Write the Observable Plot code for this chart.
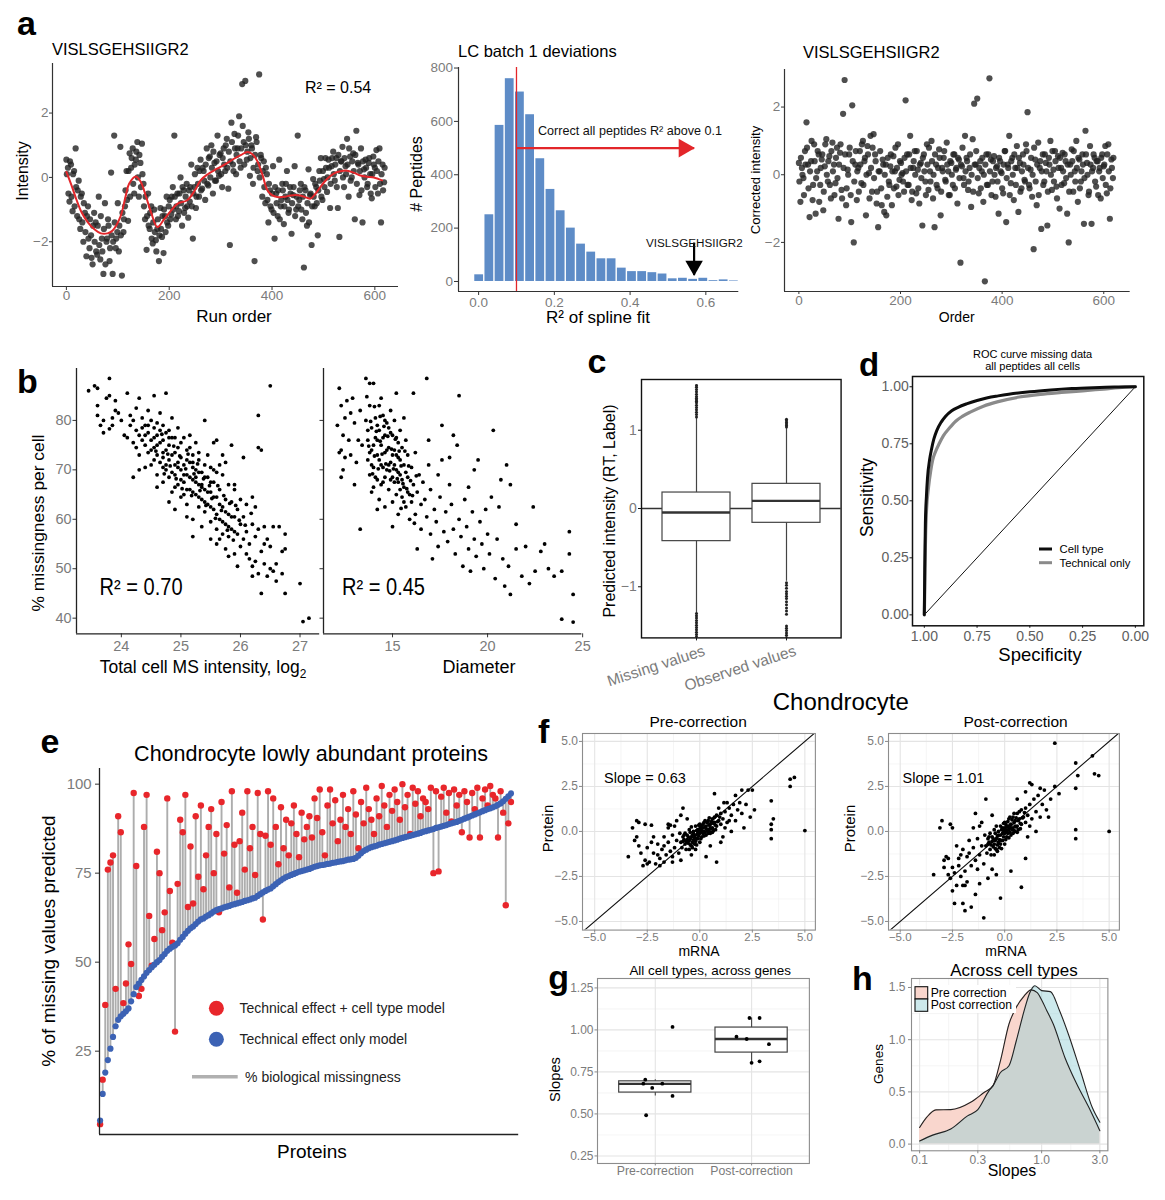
<!DOCTYPE html>
<html><head><meta charset="utf-8">
<script src="https://cdn.jsdelivr.net/npm/d3@7"></script>
<script src="https://cdn.jsdelivr.net/npm/@observablehq/plot@0.6"></script>
<style>
html,body{margin:0;padding:0;background:#fff;}
#root{position:relative;width:1165px;height:1200px;overflow:hidden;background:#fff;}
#root svg{position:absolute;max-width:none;overflow:visible;}
</style></head><body><div id="root"></div>
<script>
const FONT = "'Liberation Sans', Arial, Helvetica, sans-serif";

// ================= DATA =================
// (a) intensities of VISLSGEHSIIGR2: series A = runs 0,3,6,...; series B = runs 1,4,7,...
const aRunStep = 3;
const aRawIntensity = [
0.55,0.3,-0.75,0.4,-1.05,0.2,0.9,-1.2,-0.1,-1.6,
-0.5,-2.0,-1.1,-2.45,-0.9,-2.2,-1.8,-2.7,-1.1,-1.4,
-2.4,-0.6,-2.55,-1.9,-3.0,-0.8,-2.0,-1.3,-2.6,0.15,
-3.0,1.3,-2.2,-1.7,-2.3,0.95,-3.05,-1.7,-0.9,0.2,
-1.35,0.75,0.3,0.9,-0.5,0.55,1.1,-0.6,0.45,1.05,
-0.2,-1.3,-2.25,-0.5,-1.6,-0.9,-2.05,-1.0,-1.95,-1.6,
-2.6,-0.95,-1.85,-2.35,-1.2,-0.6,-1.5,-0.7,-1.15,-0.3,
1.3,-1.3,-0.5,-1.05,0.0,-1.5,-0.4,-0.95,-0.2,-1.25,
-0.75,0.4,-1.9,-0.3,-0.95,0.3,-0.6,0.55,-0.35,0.2,
-0.7,0.9,-0.25,0.65,1.0,-0.5,0.45,-0.1,1.3,0.05,
0.75,-0.3,0.9,0.2,1.2,-0.35,-2.1,1.7,0.4,1.35,
0.1,0.9,1.9,0.3,2.9,1.1,3.0,0.55,1.4,0.05,
1.0,-0.2,-2.6,1.25,0.2,3.2,0.7,-0.6,0.5,-0.8,
0.1,-1.4,-0.4,-1.0,0.35,-1.9,-0.5,-1.2,0.55,-0.9,
-0.2,-1.45,-0.6,0.2,-1.1,-0.3,-1.75,-0.55,0.35,-1.0,
1.3,-0.7,-0.2,-1.3,-2.8,-0.4,-1.5,0.25,-0.55,-2.1,
-0.05,-0.9,-0.3,-1.8,0.2,0.6,-0.7,-0.05,0.6,-0.45,
0.55,-0.95,0.35,0.8,-0.1,0.6,-0.95,-1.85,0.5,0.95,
-0.3,0.35,1.2,-0.6,0.65,0.0,0.75,-1.3,1.45,0.45,
-0.55,0.9,-1.4,0.25,0.55,-0.3,0.45,0.1,-0.65,0.65,
0.3,0.85,-0.5,0.9,-1.4,0.4,-0.15];
const aRawIntensityB = [
0.1,-0.5,0.5,-0.6,0.1,-0.9,-0.3,-0.4,-1.3,-0.6,
-1.4,-0.8,-1.7,-1.2,-1.9,-1.3,-2.5,-1.5,-2.0,-2.3,
-1.5,-2.1,-1.2,-2.3,-1.6,-2.7,-1.9,-1.5,-2.2,-1.8,
-2.0,-1.4,-1.9,-0.8,-1.5,-1.8,-1.1,-1.3,-0.4,-0.7,
0.2,-0.6,0.6,-0.2,0.4,0.8,0.0,0.7,-0.3,0.1,
-0.9,-0.6,-1.2,-1.5,-1.1,-1.9,-1.4,-1.7,-2.3,-1.3,
-1.8,-1.6,-1.2,-1.0,-1.7,-1.4,-0.9,-1.3,-0.6,-1.0,
-0.6,-0.9,-1.2,-0.5,-0.8,-0.3,-1.1,-0.6,-0.9,-0.4,
-0.3,-0.9,-0.5,0.1,-0.6,-0.2,0.2,-0.4,0.3,-0.1,
0.4,-0.2,0.6,0.0,0.3,0.8,-0.1,0.5,0.2,0.7,
0.1,0.6,0.4,1.0,0.3,0.8,0.5,1.1,0.2,0.9,
0.7,1.3,0.5,0.9,1.6,0.4,1.0,0.8,1.2,0.6,
0.9,0.3,0.7,1.1,0.4,0.0,0.6,0.2,-0.3,0.3,
-0.7,-0.2,-0.9,-0.5,-1.1,-0.3,-0.8,-0.4,-1.3,-0.7,
-0.4,-0.9,-0.2,-0.7,-1.0,-0.5,-0.8,-0.3,-1.2,-0.6,
-0.9,-0.4,-1.0,-0.6,-0.3,-1.1,-0.8,-1.4,-0.5,-0.9,
-0.6,-0.2,-0.8,-0.4,-0.1,-0.6,0.2,-0.3,0.3,0.0,
0.3,-0.2,0.6,0.1,0.4,-0.3,0.7,0.2,0.5,0.0,
0.6,0.1,0.4,0.9,-0.1,0.5,0.2,0.7,-0.2,0.4,
0.2,-0.4,0.5,0.0,0.3,-0.2,0.6,-0.5,0.1,0.4,
-0.3,0.2,0.5,-0.2,0.1,-0.4,0.3];
const aCorrectedIntensity = [
0.35,-0.8,0.2,-0.1,0.7,1.55,0.3,-1.25,0.4,-0.75,
0.9,-1.15,0.1,0.6,-0.3,0.45,-1.05,0.25,1.05,-0.2,
0.55,-0.7,0.95,0.3,-0.25,0.8,-1.3,0.65,-0.45,1.8,
2.8,-0.9,0.15,0.6,-0.6,2.05,-2.0,0.3,-0.75,0.2,
0.7,-0.25,1.0,0.4,-1.2,0.85,0.05,1.15,-0.5,1.2,
0.6,-0.85,-1.55,0.1,-0.4,0.45,-1.1,0.3,-0.65,-0.2,
0.25,-0.9,0.55,0.1,-0.35,0.9,-0.15,0.35,0.05,-0.5,
2.2,0.6,-0.3,1.15,-0.75,0.2,0.7,-0.55,0.15,-0.85,
0.35,-1.5,0.6,-0.2,0.9,-0.45,0.1,1.0,-0.7,-1.55,
0.3,-0.4,0.75,-1.2,0.2,0.5,-0.15,0.95,0.1,-0.6,
0.35,-0.3,0.6,0.15,-0.85,0.45,-2.6,0.25,-0.1,1.15,
0.5,-0.45,0.2,-0.95,1.05,2.1,0.3,2.25,-0.55,0.4,
0.1,-0.8,-3.15,0.6,-0.3,2.85,0.45,-0.2,0.55,-0.65,
0.25,-1.15,0.4,0.05,-0.55,0.7,-1.4,0.3,1.15,-0.25,
0.5,-0.75,0.2,0.85,-1.1,0.35,-0.4,0.6,-0.15,0.9,
1.85,-0.3,0.15,-0.65,-2.2,0.45,-0.9,0.95,0.2,-1.6,
0.6,-0.2,0.35,-1.5,0.5,1.0,-0.45,0.15,0.7,-0.35,
0.55,-1.0,0.2,0.65,-0.25,0.4,-1.15,-2.0,0.3,0.75,
-0.5,0.1,1.0,-0.8,0.45,-0.2,0.6,-1.45,1.3,0.35,
-0.6,0.85,-1.45,0.2,0.5,-0.35,0.4,0.1,-0.7,0.6,
0.25,0.85,-0.55,0.9,-1.3,0.45,-0.1];
const aCorrectedIntensityB = [
-0.2,0.5,0.0,-0.6,0.3,0.8,-0.4,0.1,1.0,-0.3,
0.4,-0.1,0.7,-0.8,0.2,0.6,-0.5,0.9,0.0,0.4,
-0.3,0.7,0.1,-0.6,0.5,-0.1,0.3,0.9,-0.7,0.2,
0.6,-0.4,0.0,0.8,-1.4,0.4,-0.2,0.7,0.1,-0.5,
0.3,0.9,-0.3,0.5,0.0,0.6,-0.7,0.2,0.8,-0.1,
0.4,-0.5,0.1,0.7,-0.9,0.3,0.0,-1.2,0.5,-0.3,
0.6,0.1,-0.4,0.8,0.2,-0.6,0.4,0.0,-0.2,0.5,
0.1,-0.3,0.6,0.2,-0.5,0.4,0.0,0.7,-0.4,0.3,
-0.1,0.5,0.1,-0.6,0.3,0.8,-0.2,0.4,0.0,0.6,
-0.3,0.2,0.5,-0.5,0.1,0.7,-0.2,0.3,-0.6,0.4,
0.0,0.6,-0.4,0.2,0.5,-0.1,0.3,0.8,-0.3,0.1,
0.4,-0.2,0.6,0.0,-0.5,0.3,0.7,-0.1,0.2,-0.4,
0.5,0.0,0.3,-0.3,0.6,0.1,-0.6,0.4,0.0,0.2,
-0.2,0.5,0.1,-0.4,0.3,0.7,-0.1,0.2,-0.6,0.4,
0.0,0.6,-0.3,0.2,0.5,-0.5,0.1,0.3,-0.2,0.7,
0.2,-0.4,0.5,0.0,0.8,-0.2,0.3,-0.6,0.4,0.1,
-0.3,0.6,0.1,-0.5,0.3,0.0,0.7,-0.2,0.4,-0.7,
0.2,0.5,-0.3,0.1,0.6,-0.1,0.3,-0.5,0.0,0.4,
0.7,-0.2,0.2,0.5,-0.4,0.1,0.3,-0.1,0.6,0.0,
-0.5,0.3,0.1,0.6,-0.2,0.4,-0.6,0.2,0.5,-0.1,
0.3,-0.3,0.6,0.1,-0.4,0.2,0.5];
const aSplineRun = [0,10,20,30,41,55,67,80,90,105,115,122,135,145,155,165,177,190,200,216,235,250,261,275,293,310,326,340,352,362,371,381,391,400,410,425,436,455,466,475,485,494,507,520,533,546,560,572,585,598,614];
const aSplineFit = [0.17,-0.25,-0.71,-1.1,-1.38,-1.62,-1.74,-1.74,-1.65,-1.23,-0.6,-0.2,0.03,-0.15,-0.6,-1.1,-1.54,-1.3,-1.1,-0.82,-0.71,-0.4,-0.09,0.1,0.27,0.42,0.58,0.7,0.79,0.72,0.52,0.1,-0.4,-0.55,-0.61,-0.6,-0.56,-0.56,-0.62,-0.66,-0.5,-0.3,-0.05,0.12,0.19,0.21,0.14,0.06,0.02,0.0,-0.09];
const histStart = -0.012, histWidth = 0.0269;
const histCounts = [25,250,585,760,710,625,460,345,265,200,140,110,85,85,50,37,37,33,28,10,12,8,12,3,6,2];
const histThreshold = 0.1;
const thresholdArrow = {x1: 0.1, x2: 0.569, count: 500};
const peptideArrow = {r2: 0.569, top: 146, tip: 25};

// (b) per-cell missingness
const bIntensityPoints = [
[23.45,86],[23.55,87],[23.6,86.5],[23.6,83],[23.6,81],[23.65,79],[23.7,77.5],[23.75,84.5],[23.8,88.5],[23.8,85],[23.85,80.5],[23.85,79],[23.9,82],[23.8,78.3],[23.95,81.5],[24.0,80],[23.9,84],[23.7,80],
[24.05,77],[24.1,85.5],[24.1,76.5],[24.15,79],[24.2,80],[24.2,75.5],[24.25,82.5],[24.25,78],[24.3,84.5],[24.3,77],[24.3,73],[24.35,80.5],[24.35,76],[24.4,79],[24.4,70.5],[24.4,75],[24.45,82],[24.45,77.5],[24.45,73.5],[24.5,80],[24.5,76],[24.5,71],[24.2,68.5],[24.3,70],[24.15,81],[24.25,74.5],
[24.55,78.5],[24.55,74.5],[24.55,85],[24.6,77],[24.6,73],[24.6,69],[24.65,81.5],[24.65,75.5],[24.65,71.5],[24.7,79],[24.7,76],[24.7,72.5],[24.7,67.5],[24.75,85.5],[24.75,74],[24.75,70],[24.8,78],[24.8,75],[24.8,72],[24.8,68.5],[24.85,80.5],[24.85,73],[24.85,65.5],[24.9,76.5],[24.9,71],[24.9,69],[24.95,78.5],[24.95,74.5],[24.95,67],[25.0,72.5],[25.0,70],[25.0,64.5],[24.6,66.5],[24.8,63.5],[24.9,62],[24.55,72],[24.75,77.5],[24.65,78],[24.85,76.5],[24.95,71.5],
[25.05,76.5],[25.05,71],[25.05,67.5],[25.1,74],[25.1,69],[25.1,63],[25.15,77],[25.15,71.5],[25.15,66],[25.2,73],[25.2,68],[25.2,60],[25.25,75.5],[25.25,70],[25.25,65],[25.3,72],[25.3,67],[25.3,62.5],[25.35,69.5],[25.35,64],[25.35,58.5],[25.4,80],[25.4,71],[25.4,66],[25.4,61.5],[25.45,68.5],[25.45,63],[25.5,70.5],[25.5,65.5],[25.5,59.5],[25.5,56],[25.2,56.5],[25.1,60.5],[25.3,73.5],[25.05,65],[25.15,74.5],[25.25,67.5],[25.45,73],[25.35,66.5],[25.2,70.5],
[25.55,75.5],[25.55,67.5],[25.55,62],[25.6,76],[25.6,64.5],[25.6,58],[25.6,55],[25.65,71],[25.65,66],[25.65,60],[25.7,69],[25.7,62.5],[25.7,57],[25.75,71.5],[25.75,64],[25.75,59],[25.75,54],[25.8,67],[25.8,61],[25.8,56.5],[25.85,75],[25.85,63.5],[25.85,58],[25.9,66],[25.9,60.5],[25.9,53],[25.95,62],[25.95,57],[25.95,50.5],[26.0,64],[26.0,59],[26.0,54.5],[25.6,69.5],[25.7,73],[25.8,52.5],[25.9,67],[25.55,70],[25.65,56],
[26.05,72.5],[26.05,60.5],[26.05,56],[26.1,63],[26.1,57.5],[26.15,55],[26.15,52],[26.2,64.5],[26.2,59],[26.2,50.5],[26.25,62.5],[26.25,56.5],[26.25,51.5],[26.3,81],[26.3,74.5],[26.3,58],[26.3,49],[26.35,74],[26.35,53.5],[26.35,45],[26.4,55],[26.4,51],[26.45,56],[26.45,48.5],[26.5,87],[26.5,54.5],[26.5,50],[26.1,53],[26.4,58.5],[26.2,48.5],
[26.55,58.5],[26.55,49.5],[26.6,51],[26.6,47.5],[26.65,58.5],[26.7,53.5],[26.7,49],[26.75,57],[26.75,54],[26.75,45],[27.0,47],[27.05,39.3],[27.15,40],
[24.6,75],[24.7,73.5],[24.75,71],[24.8,76.5],[24.85,69.5],[24.9,73.5],[24.95,70.5],[25.0,68],[25.0,75.5],[25.05,69],[25.1,72],[25.1,66],[25.15,68.5],[25.2,65.5],[25.2,71.5],[25.25,68.5],[25.3,64.5],[25.3,69.5],[25.35,67],[25.4,63.5],[25.4,68.5],[25.45,65.5],[25.5,62.5],[25.5,67.5],[25.55,64.5],[25.6,61],[25.65,63],[25.7,59.5],[25.75,61.5],[25.8,58.5],[25.85,60.5],[25.9,57.5],[24.5,74],[24.55,76.5],[24.45,79],[24.4,77],[24.35,78.5],[24.6,79.5],[24.7,70.5],[24.9,66.5],
[24.58,73.8],[24.68,77.2],[24.72,69.2],[24.78,73.2],[24.82,70.8],[24.88,74.8],[24.92,68.2],[24.98,72.8],[25.02,66.2],[25.08,70.2],[25.12,73.2],[25.18,64.8],[25.22,69.2],[25.28,71.2],[25.32,65.8],[25.38,68.2],[25.42,62.8],[25.48,66.8],[25.52,64.2],[25.58,60.2],[25.62,66.8],[25.68,61.8],[25.72,64.8],[25.78,57.8],[25.82,63.2],[25.88,55.8],[25.92,62.8],[25.98,59.8],[26.08,58.8],[26.18,61.2]];
const bDiameterPoints = [
[12.2,86.5],[12.3,83],[12.1,79],[12.4,77],[12.5,80.5],[12.3,74],[12.6,84],[12.8,81.5],[12.5,72.5],[12.4,70],[12.7,76],[12.9,84.5],[12.3,68.5],[12.8,73],[13.0,79.5],[13.0,67],[13.2,76],[13.3,82],[13.1,71.5],[13.3,58],[12.2,73.5],[13.4,75],
[13.6,88.5],[13.8,87.5],[14.0,87.5],[13.6,80],[13.7,76],[13.7,72],[13.8,69],[13.8,83],[13.9,78.5],[13.9,74],[14.0,70.5],[14.0,66.5],[14.1,80.5],[14.1,76.5],[14.2,73],[14.2,68],[14.3,83],[14.3,78],[14.3,64],[14.4,75],[14.4,71],[14.5,81],[14.5,67.5],[14.6,77],[14.6,73.5],[14.6,62.5],[14.7,79.5],[14.7,70],[14.8,74.5],[14.8,66],[14.9,82],[14.9,77.5],[14.9,71.5],[15.0,68.5],[15.0,63.5],[15.1,80],[15.1,74],[15.2,76.5],[15.2,70],[15.2,65],[15.3,72.5],[15.3,67.5],[15.3,61],[15.4,78],[15.4,69],[15.5,74.5],[15.5,64.5],[15.6,71],[15.6,66.5],[15.7,76],[15.7,62.5],[15.8,68.5],[15.8,73],[15.9,65],[15.9,60],[16.0,70.5],[16.0,63.5],[16.1,67],[16.2,73.5],[16.2,61],[16.3,65.5],[16.4,69],[16.5,58],[16.5,63],[15.2,85.5],[16.1,85.5],[16.8,88.5],[14.2,62],[13.9,65.5],[15.0,58.5],[15.6,80.5],[14.4,84.5],
[13.7,78],[13.9,71],[14.0,75],[14.1,68.5],[14.2,79],[14.3,72],[14.4,67],[14.5,76.5],[14.5,70.5],[14.6,68.5],[14.7,74],[14.8,71],[14.9,68],[15.0,73],[15.0,77],[15.1,67.5],[15.1,71],[15.2,73],[15.3,69.5],[15.4,66],[15.4,72],[15.5,68],[15.6,63.5],[15.7,69.5],[15.8,65.5],[14.8,78.5],[14.6,80],[15.3,75.5],[14.2,76],[13.8,73.5],
[13.75,74.8],[13.85,79.8],[13.95,69.2],[14.05,72.8],[14.15,77.8],[14.25,70.2],[14.35,75.8],[14.45,73.2],[14.55,78.8],[14.65,71.2],[14.75,76.8],[14.85,69.8],[14.95,74.2],[15.05,70.2],[15.15,76.2],[15.25,68.2],[15.35,73.8],[15.45,70.8],[15.55,67.2],[15.65,73.8],[15.75,66.2],[15.85,70.8],[15.95,67.8],[16.05,64.8],[16.25,68.8],[14.35,80.8],[14.05,82.8],[13.65,84.8],[15.45,62.2],[16.15,59.2],
[16.6,67.5],[16.7,64],[16.8,60.5],[16.9,71],[17.0,57],[17.0,66],[17.2,62],[17.3,59.5],[17.4,54.5],[17.4,69],[17.5,64.5],[17.6,72],[17.7,57.5],[17.8,61.5],[17.9,55.5],[18.0,67],[18.1,63],[18.2,58],[18.3,53],[18.4,75],[18.5,85],[18.5,60],[18.6,56.5],[18.7,50.5],[18.8,64],[18.9,58.5],[19.0,54],[19.1,49.5],[19.2,61.5],[19.3,56],[19.4,52.5],[19.5,72],[19.6,59.5],[19.7,55],[19.8,50],[19.9,62],[20.0,57],[16.3,54],[17.1,52],[18.2,77],[17.6,79],[19.3,70],[16.9,76],[18.0,72.5],[19.0,66.5],
[20.1,53],[20.2,64.5],[20.3,78],[20.4,48],[20.5,56],[20.6,62.5],[20.8,52],[20.9,46.5],[21.0,71],[21.1,50.5],[21.2,44.8],[21.2,67],[21.5,54],[21.8,48.5],[22.0,54.5],[22.2,47],[22.4,62.5],[22.5,49.5],[22.8,53.5],[23.0,55],[23.2,50],[23.5,48.5],[23.9,49.5],[24.3,57.5],[24.3,53],[24.5,44.8],[23.9,39.8],[24.5,39.2],[20.7,68],[21.5,59]];

// (c) predicted intensity box plots
const cCats = ["Missing values", "Observed values"];
const cQ1 = [-0.417, -0.183], cMedian = [-0.051, 0.098], cQ3 = [0.204, 0.315];
const cWhiskerLo = [-1.34, -0.93], cWhiskerHi = [1.15, 1.03];
const cOutMissing = [1.17,1.2,1.23,1.26,1.29,1.32,1.35,1.37,1.39,1.41,1.43,1.46,1.49,1.52,1.55,1.57,-1.34,-1.37,-1.4,-1.43,-1.46,-1.49,-1.52,-1.55,-1.58,-1.61,-1.64];
const cOutObserved = [1.04,1.06,1.08,1.1,1.12,1.14,-0.95,-0.98,-1.02,-1.06,-1.09,-1.12,-1.15,-1.19,-1.23,-1.27,-1.31,-1.35,-1.5,-1.53,-1.56,-1.59,-1.62,-1.65];

// (d) ROC curves
const rocCellSpec = [1,0.998,0.995,0.99,0.985,0.975,0.965,0.955,0.94,0.92,0.9,0.87,0.84,0.8,0.75,0.7,0.65,0.6,0.5,0.4,0.3,0.2,0.1,0];
const rocCellSens = [0,0.2,0.4,0.52,0.6,0.68,0.73,0.77,0.81,0.845,0.87,0.895,0.91,0.925,0.94,0.952,0.96,0.967,0.978,0.986,0.992,0.996,0.999,1];
const rocTechSpec = [1,0.998,0.995,0.99,0.98,0.97,0.96,0.945,0.93,0.91,0.88,0.85,0.82,0.78,0.72,0.65,0.55,0.45,0.35,0.25,0.15,0.05,0];
const rocTechSens = [0,0.1,0.3,0.45,0.56,0.63,0.68,0.72,0.75,0.785,0.82,0.85,0.87,0.89,0.915,0.935,0.955,0.967,0.975,0.982,0.99,0.998,1];
const rocChanceSpec = [1, 0], rocChanceSens = [0, 1];

// (e) % of missing values predicted, proteins sorted by technical-only model
const eTechOnly = [5.5,13,19,22.5,25.7,29,32,33.8,34.8,35.5,
36.2,37,39,41,43,44,45,46,47,47.8,48.6,49.3,50,50.6,51.5,52.3,53.2,53.8,54.3,54.7,
55.3,56.3,57.1,58,58.8,59.5,60,60.7,61.4,62,62.3,62.8,63.2,63.7,64.2,64.6,64.9,65.1,65.4,65.6,
65.8,66.1,66.3,66.5,66.7,66.9,67.2,67.4,67.6,67.9,68.1,68.6,69.1,69.6,70,70.4,70.7,71.3,71.9,72.5,
73,73.5,73.9,74.2,74.5,74.8,75.1,75.4,75.6,75.8,76,76.2,76.5,76.8,77,77.2,77.3,77.4,77.6,77.7,
77.9,78,78.2,78.3,78.4,78.6,78.8,78.9,79,79.3,79.9,80.6,81.2,81.6,82,82.3,82.5,82.7,83,83.2,
83.4,83.6,83.8,84,84.2,84.4,84.7,84.9,85.1,85.3,85.5,85.7,85.9,86.1,86.3,86.6,86.8,87,87.2,87.4,
87.7,87.9,88.1,88.3,88.5,88.8,89,89.2,89.4,89.7,90,90.3,90.6,90.9,91.2,91.5,91.8,92.1,92.4,92.7,
93,93.2,93.5,93.8,94.2,94.6,95.2,95.9,96.6,97.4];
const eWithCellType = [4.5,17,38,76,78,80,42.5,91,86.5,38.5,
44,55,49.5,97.5,77,40.5,42.5,88,97,63,49,56.5,81,75,59,64,96,70,55.5,30.5,
72,90,86.5,97,65.5,82.5,66.5,91,74,94,70.5,80,88,93,75,86,64,95,80.5,88.5,
71,98,83,69.5,84,92,76,98,82,88,74.5,97.5,86,62,85.5,98,83,96,88,77.5,
93.5,82,90,80,89,94,86,79.5,92,84.5,88,91,85,96,90.5,98.5,86.5,80,94,98.5,
89,95.5,84,90,97,88,93,86,98,91.5,82,95,89,99,93,90,86,96,91,99.5,
94,88,97,92.5,98.5,95,90,100,93.5,97,86,99,94.5,98,91,96,95,93,99,75,
98,75.5,96.5,99,92,97.5,89.5,98.5,94,97,86.5,98,95,85,97.5,93,99,85,96,98.5,
94,99.5,97,96,85,98,92,66,89,95];

// (f) chondrocyte mRNA vs protein
const fPrePoints = [
[-0.9,-0.6],[-0.8,-0.3],[-0.7,-0.7],[-0.6,-0.2],[-0.5,-0.5],[-0.5,0.1],[-0.4,-0.3],[-0.4,-0.8],[-0.3,0.0],[-0.3,-0.5],[-0.2,-0.2],[-0.2,0.3],[-0.1,-0.4],[-0.1,0.1],[0.0,-0.1],[0.0,0.4],[0.0,-0.6],[0.1,0.2],[0.1,-0.3],[0.2,0.0],[0.2,0.5],[0.3,0.3],[0.3,-0.2],[0.4,0.1],[0.4,0.6],[0.5,0.4],[0.5,-0.1],[0.6,0.2],[0.6,0.7],[0.7,0.5],[0.8,0.3],[0.8,0.9],[0.9,0.6],[1.0,0.4],[1.0,1.0],
[-0.95,-0.1],[-0.85,-0.9],[-0.75,-0.45],[-0.65,-1.0],[-0.55,-0.65],[-0.45,-0.05],[-0.35,-0.6],[-0.25,-0.35],[-0.15,0.05],[-0.05,-0.25],[0.05,0.05],[0.15,-0.1],[0.25,0.25],[0.35,0.05],[0.45,0.35],[0.55,0.15],[0.65,0.45],[0.75,0.1],[0.85,0.55],[0.95,0.8],
[-0.6,-0.45],[-0.3,-0.15],[-0.1,-0.1],[0.1,0.0],[0.3,0.15],[0.5,0.2],[-0.2,-0.55],[0.0,0.15],[0.2,-0.25],[0.4,-0.1],[-0.4,0.25],[0.6,-0.05],[-0.7,-0.1],[0.7,0.8],[-0.8,-0.55],[0.15,0.4],[-0.35,-0.9],[0.45,0.75],[-0.05,0.35],[-0.5,-1.0],
[-0.75,-0.2],[-0.65,-0.55],[-0.55,-0.3],[-0.45,-0.75],[-0.35,-0.2],[-0.25,-0.7],[-0.15,-0.4],[-0.05,0.0],[0.05,-0.4],[0.15,0.2],[0.25,-0.05],[0.35,0.5],[0.45,0.0],[0.55,0.55],[0.65,0.05],[0.75,0.35],[0.25,0.6],[-0.15,-0.75],[0.05,0.3],[-0.45,-0.4],
[1.1,0.7],[1.2,1.1],[1.3,0.5],[1.4,1.3],[1.5,0.9],[1.6,1.5],[1.7,0.6],[1.8,1.2],[1.9,1.6],[2.0,1.0],[1.2,0.2],[1.5,0.0],[1.3,1.6],[1.7,2.0],[1.1,-0.3],[0.7,2.1],[1.0,-0.6],[1.4,0.6],[0.9,1.3],[1.15,1.6],
[-1.1,-0.5],[-1.2,-0.9],[-1.3,-0.2],[-1.4,-1.1],[-1.5,-0.6],[-1.6,-1.3],[-1.7,-0.3],[-1.8,-1.0],[-1.9,-1.5],[-2.0,-0.7],[-1.2,0.3],[-1.5,0.2],[-1.0,-1.2],[-1.3,-1.4],[-0.9,0.9],[-0.8,1.3],[-1.1,0.6],[-1.7,-0.8],[-0.6,0.7],[-0.4,-1.3],[-0.2,-1.0],[0.3,-1.4],[0.8,-1.7],[0.5,-0.8],[-0.9,-1.6],
[2.2,1.5],[2.3,2.3],[2.5,2.3],[2.1,0.2],[2.0,2.3],[2.4,0.8],[2.6,1.2],[3.4,1.7],[3.5,0.7],[3.4,0.4],[3.4,0.1],[3.4,-0.4],[4.3,2.9],[4.5,3.0],[4.3,2.5],[5.0,0.05],
[-2.2,-1.2],[-2.4,-1.7],[-2.5,-1.8],[-2.6,-1.6],[-2.7,-1.9],[-2.8,-1.2],[-2.9,-0.8],[-3.0,-0.3],[-3.0,0.6],[-2.9,0.5],[-2.6,0.4],[-2.3,-0.6],[-2.1,-1.8],[-1.9,-1.9],[-2.0,-1.3],[-3.4,-1.4],[-3.1,-0.5],[-2.5,-0.9],[-2.2,-0.3],[-1.5,0.4],[-1.4,0.35],[-1.7,-1.7],[-1.3,-1.7],[-2.3,0.35],[-3.2,0.2]];
const fPostPoints = [
[-0.9,-0.8],[-0.8,-0.4],[-0.7,-1.0],[-0.6,-0.3],[-0.5,-0.7],[-0.5,0.1],[-0.4,-0.4],[-0.4,-1.0],[-0.3,0.0],[-0.3,-0.6],[-0.2,-0.2],[-0.2,0.3],[-0.1,-0.5],[-0.1,0.2],[0.0,-0.1],[0.0,0.5],[0.0,-0.7],[0.1,0.3],[0.1,-0.3],[0.2,0.1],[0.2,0.7],[0.3,0.4],[0.3,-0.2],[0.4,0.2],[0.4,0.8],[0.5,0.6],[0.5,0.0],[0.6,0.3],[0.6,1.0],[0.7,0.7],[0.8,0.4],[0.8,1.2],[0.9,0.8],[1.0,0.5],[1.0,1.3],
[-0.95,-0.2],[-0.85,-1.2],[-0.75,-0.6],[-0.65,-1.3],[-0.55,-0.85],[-0.45,-0.1],[-0.35,-0.75],[-0.25,-0.45],[-0.15,0.1],[-0.05,-0.3],[0.05,0.1],[0.15,-0.1],[0.25,0.35],[0.35,0.1],[0.45,0.5],[0.55,0.25],[0.65,0.6],[0.75,0.15],[0.85,0.75],[0.95,1.05],
[-0.6,-0.55],[-0.3,-0.2],[-0.1,-0.1],[0.1,0.0],[0.3,0.2],[0.5,0.3],[-0.2,-0.7],[0.0,0.2],[0.2,-0.35],[0.4,-0.1],[-0.4,0.3],[0.6,-0.05],[-0.7,-0.1],[0.7,1.1],[-0.8,-0.7],[0.15,0.55],[-0.35,-1.1],[0.45,1.0],[-0.05,0.45],[-0.5,-1.3],
[-0.75,-0.3],[-0.65,-0.75],[-0.55,-0.4],[-0.45,-0.95],[-0.35,-0.25],[-0.25,-0.9],[-0.15,-0.5],[-0.05,0.05],[0.05,-0.45],[0.15,0.25],[0.25,-0.05],[0.35,0.65],[0.45,0.05],[0.55,0.75],[0.65,0.1],[0.75,0.45],[0.25,0.8],[-0.15,-0.95],[0.05,0.4],[-0.45,-0.5],
[1.1,0.9],[1.2,1.5],[1.3,0.7],[1.4,1.8],[1.5,1.1],[1.6,2.0],[1.7,0.8],[1.8,1.5],[1.9,2.3],[2.0,1.2],[1.2,0.3],[1.5,0.0],[1.3,2.6],[1.7,2.4],[1.1,-0.3],[1.0,-1.5],[0.8,-3.1],[0.6,1.8],[1.0,2.2],[1.2,2.7],[0.3,-2.2],[-0.2,-3.7],
[-1.1,-0.8],[-1.2,-1.3],[-1.3,-0.4],[-1.4,-1.6],[-1.5,-0.9],[-1.6,-1.9],[-1.7,-0.5],[-1.8,-1.4],[-1.9,-2.2],[-2.0,-1.0],[-1.2,0.3],[-1.5,0.2],[-1.0,-1.8],[-1.3,-2.1],[-0.9,1.8],[-0.6,0.9],[-1.1,0.5],[-1.7,-1.2],[-0.6,-2.1],[-0.4,-2.4],[-0.8,-2.6],[-1.0,-4.8],[-1.4,-3.5],[-1.6,-4.2],[-1.9,-4.4],[-2.0,-4.0],[-2.4,-4.0],[-1.2,-2.9],
[2.2,1.8],[2.4,2.5],[2.6,2.1],[2.1,0.8],[2.4,4.9],[3.4,3.8],[3.5,3.1],[4.2,4.2],[4.3,3.2],[4.5,3.1],[3.4,2.4],[3.4,0.1],[3.4,-0.4],[5.0,0.0],
[-2.2,-1.5],[-2.4,-2.3],[-2.5,-2.0],[-2.6,-2.6],[-2.7,-1.5],[-2.8,-1.4],[-2.9,-1.6],[-3.0,0.6],[-2.9,-2.0],[-2.6,0.4],[-2.3,-0.8],[-2.1,-2.5],[-1.9,-3.0],[-2.0,-3.0],[-3.4,-2.4],[-2.5,0.2],[-3.1,0.2],[-2.2,-1.9],[-2.7,-2.4],[-2.3,-3.0],[-2.1,-1.3],[-1.8,-2.8],[-1.4,1.0],[-2.5,-3.3]];
const fIdentity = [-6, 6];

// (g) slopes across genes, all cell types
const gCats = ["Pre-correction", "Post-correction"];
const gQ1 = [0.627, 0.865], gMedian = [0.679, 0.946], gQ3 = [0.694, 1.014];
const gWhiskerLo = [0.607, 0.804], gWhiskerHi = [0.704, 1.071];
const gPreSlopes = [0.704,0.68,0.655,0.68,0.607,0.492,1.018];
const gPreJitter = [0.896,0.876,0.968,1.073,1.179,0.905,1.179];
const gPostSlopes = [0.96,0.946,1.071,1.071,0.915,0.804,0.813];
const gPostJitter = [1.843,1.949,1.978,2.083,2.18,2.0,2.083];

// (h) density of slopes across cell types
const hPreSlope = [0.1,0.115,0.136,0.18,0.262,0.337,0.4,0.46,0.54,0.62,0.72,0.82,0.92,1.0,1.1,1.245,1.55,1.94,2.44,3.0];
const hPreDensity = [0.159,0.26,0.328,0.33,0.40,0.494,0.56,0.80,1.15,1.31,1.42,1.477,1.45,1.38,1.28,1.15,0.83,0.575,0.35,0.128];
const hPostSlope = [0.1,0.128,0.18,0.247,0.30,0.37,0.4,0.46,0.54,0.62,0.72,0.8,0.88,1.0,1.18,1.4,1.66,2.08,2.6,3.0];
const hPostDensity = [0.03,0.086,0.144,0.27,0.33,0.51,0.56,0.686,0.75,0.99,1.28,1.45,1.516,1.47,1.46,1.28,1.05,0.70,0.35,0.21];

// ================= HELPERS =================
const root = document.getElementById("root");
const GRAY = "#7b7b7b";
function panel(fr, m, opts) {
  const w = m.l + (fr.R - fr.L) + m.r, h = m.t + (fr.B - fr.T) + m.b;
  const svg = Plot.plot(Object.assign({
    width: w, height: h,
    marginLeft: m.l, marginRight: m.r, marginTop: m.t, marginBottom: m.b,
    style: {fontFamily: FONT, fontSize: "13px", background: "transparent", overflow: "visible", color: "#000"}
  }, opts));
  svg.style.left = (fr.L - m.l) + "px";
  svg.style.top = (fr.T - m.t) + "px";
  root.appendChild(svg);
  return svg;
}
const mnus = (s) => String(s).replace("-", "\u2212");
const fInt = d => mnus(d3.format("d")(d));
const f1 = d => mnus(d3.format(".1f")(d));
const f2 = d => mnus(d3.format(".2f")(d));
function axX(ticks, o = {}) {
  const a = {label: null, tickSize: o.ts ?? 3, tickPadding: o.tp ?? 2, color: o.color || GRAY, stroke: o.stroke || "#333", fontSize: o.fs || 13, tickFormat: o.fmt || fInt};
  if (ticks) a.ticks = ticks;
  return Plot.axisX(a);
}
function axY(ticks, o = {}) {
  const a = {label: null, tickSize: o.ts ?? 3, tickPadding: o.tp ?? 2, color: o.color || GRAY, stroke: o.stroke || "#333", fontSize: o.fs || 13, tickFormat: o.fmt || fInt};
  if (ticks) a.ticks = ticks;
  return Plot.axisY(a);
}
const runA = (d, i) => i * aRunStep, runB = (d, i) => i * aRunStep + 1;

// ================= PANEL a =================
const FA1 = {L:52, R:398, T:63, B:286};
panel(FA1, {l:40, r:6, t:6, b:26}, {
  x: {domain: [-27, 646], axis: null}, y: {domain: [-3.39, 3.54], axis: null},
  marks: [
    axX([0,200,400,600], {ts:4, tp:0, fs:13.5}),
    axY([-2,0,2], {ts:3, tp:1, fs:13.5}),
    Plot.ruleX([-27], {stroke:"#333", strokeWidth:1.2}),
    Plot.ruleY([-3.39], {stroke:"#333", strokeWidth:1.2}),
    Plot.dot(aRawIntensity, {x: runA, y: d => d, r: 3.1, fill: "#222", fillOpacity: 0.8}),
    Plot.dot(aRawIntensityB, {x: runB, y: d => d, r: 3.1, fill: "#222", fillOpacity: 0.8}),
    Plot.line(aSplineRun.map((r, i) => ({r, v: aSplineFit[i]})), {x: "r", y: "v", stroke: "#e3262a", strokeWidth: 2, curve: "catmull-rom"})
  ]
});

const FA2 = {L:457.7, R:738, T:66.7, B:290.7};
const histBins = histCounts.map((n, i) => ({x1: histStart + i * histWidth, x2: histStart + (i + 1) * histWidth, n}));
panel(FA2, {l:40, r:10, t:6, b:26}, {
  x: {domain: [-0.0531, 0.687], axis: null}, y: {domain: [-37.5, 802], axis: null},
  marks: [
    Plot.rectY(histBins, {x1: "x1", x2: "x2", y: "n", fill: "#5e8cc7", insetLeft: 0.7, insetRight: 0.7}),
    axX([0,0.2,0.4,0.6], {ts:4, tp:1.5, fs:13.5, fmt: f1}),
    axY([0,200,400,600,800], {ts:4, tp:1.5, fs:13.5}),
    Plot.ruleX([-0.0531], {stroke:"#333", strokeWidth:1.2}),
    Plot.ruleY([-37.5], {stroke:"#333", strokeWidth:1.2}),
    Plot.ruleX([histThreshold], {stroke:"#e3262a", strokeWidth:1.3}),
    Plot.link([thresholdArrow], {x1: "x1", x2: d => d.x2, y1: "count", y2: "count", stroke: "#e3262a", strokeWidth: 2.2}),
    Plot.dot([thresholdArrow], {x: "x2", y: "count", symbol: "triangle", rotate: 90, r: 7, fill: "#e3262a", dx: -10}),
    Plot.link([peptideArrow], {x1: "r2", x2: "r2", y1: "top", y2: "tip", stroke: "#000", strokeWidth: 2.2}),
    Plot.dot([peptideArrow], {x: "r2", y: "tip", symbol: "triangle", rotate: 180, r: 6.5, fill: "#000", dy: -9})
  ]
});

const FA3 = {L:784.3, R:1130, T:69, B:291};
panel(FA3, {l:40, r:6, t:6, b:26}, {
  x: {domain: [-28.3, 652], axis: null}, y: {domain: [-3.45, 3.11], axis: null},
  marks: [
    axX([0,200,400,600], {ts:3, tp:1, fs:13.5}),
    axY([-2,0,2], {ts:3, tp:1.3, fs:13.5}),
    Plot.ruleX([-28.3], {stroke:"#333", strokeWidth:1.2}),
    Plot.ruleY([-3.45], {stroke:"#333", strokeWidth:1.2}),
    Plot.dot(aCorrectedIntensity, {x: runA, y: d => d, r: 3.1, fill: "#222", fillOpacity: 0.8}),
    Plot.dot(aCorrectedIntensityB, {x: runB, y: d => d, r: 3.1, fill: "#222", fillOpacity: 0.8})
  ]
});

// ================= PANEL b =================
const FB1 = {L:76.3, R:319.5, T:368, B:633.3};
panel(FB1, {l:40, r:2, t:5, b:30}, {
  x: {domain: [23.247, 27.33], axis: null}, y: {domain: [36.84, 90.5], axis: null},
  marks: [
    axX([24,25,26,27], {ts:4, tp:3, fs:14.5}),
    axY([40,50,60,70,80], {ts:3.5, tp:1.5, fs:14.5}),
    Plot.ruleX([23.247], {stroke:"#222", strokeWidth:1.3}),
    Plot.ruleY([36.84], {stroke:"#222", strokeWidth:1.3}),
    Plot.dot(bIntensityPoints, {x: d => d[0], y: d => d[1], r: 1.9, fill: "#000"})
  ]
});
const FB2 = {L:322.6, R:581, T:368, B:633.3};
panel(FB2, {l:6, r:10, t:5, b:30}, {
  x: {domain: [11.37, 24.96], axis: null}, y: {domain: [36.84, 90.5], axis: null},
  marks: [
    axX([15,20,25], {ts:4, tp:3, fs:14.5}),
    axY([40,50,60,70,80], {ts:3.5, tp:1.5, fs:14.5, fmt: () => ""}),
    Plot.ruleX([11.37], {stroke:"#222", strokeWidth:1.3}),
    Plot.ruleY([36.84], {stroke:"#222", strokeWidth:1.3}),
    Plot.dot(bDiameterPoints, {x: d => d[0], y: d => d[1], r: 1.9, fill: "#000"})
  ]
});

// ================= PANEL c =================
const FC = {L:640.8, R:840.4, T:379.3, B:637.7};
const cBoxes = cCats.map((cat, i) => ({cat, q1: cQ1[i], med: cMedian[i], q3: cQ3[i], lo: cWhiskerLo[i], hi: cWhiskerHi[i]}));
const cOutliers = [...cOutMissing.map(v => ({cat: cCats[0], v})), ...cOutObserved.map(v => ({cat: cCats[1], v}))];
panel(FC, {l:40, r:6, t:5, b:30}, {
  x: {type: "band", domain: cCats, paddingInner: 0.247, paddingOuter: 0.23, axis: null},
  y: {domain: [-1.653, 1.648], axis: null},
  marks: [
    Plot.ruleY([0], {stroke: "#333", strokeWidth: 1.3}),
    Plot.ruleX(cBoxes, {x: "cat", y1: "lo", y2: "hi", stroke: "#444", strokeWidth: 1.2}),
    Plot.barY(cBoxes, {x: "cat", y1: "q1", y2: "q3", fill: "#fff", stroke: "#444", strokeWidth: 1.2}),
    Plot.tickY(cBoxes, {x: "cat", y: "med", stroke: "#333", strokeWidth: 2.3}),
    Plot.dot(cOutliers, {x: "cat", y: "v", r: 1.5, fill: "#222", clip: true}),
    Plot.frame({stroke: "#111", strokeWidth: 1.4}),
    axY([-1,0,1], {ts:3, tp:1.8, fs:14, stroke:"#111"}),
    Plot.axisX({label: null, tickSize: 3, stroke: "#111", tickFormat: () => ""})
  ]
});

// ================= PANEL d =================
const FD = {L:912.1, R:1143.4, T:375.7, B:625};
const rocTech = rocTechSpec.map((s, i) => ({s, v: rocTechSens[i]}));
const rocCell = rocCellSpec.map((s, i) => ({s, v: rocCellSens[i]}));
const rocChance = rocChanceSpec.map((s, i) => ({s, v: rocChanceSens[i]}));
panel(FD, {l:40, r:8, t:5, b:30}, {
  x: {domain: [1.056, -0.040], axis: null}, y: {domain: [-0.048, 1.045], axis: null},
  marks: [
    Plot.line(rocChance, {x: "s", y: "v", stroke: "#111", strokeWidth: 1}),
    Plot.line(rocTech, {x: "s", y: "v", stroke: "#8a8a8a", strokeWidth: 3.2, curve: "monotone-x"}),
    Plot.line(rocCell, {x: "s", y: "v", stroke: "#0d0d0d", strokeWidth: 3, curve: "monotone-x"}),
    Plot.frame({stroke: "#111", strokeWidth: 1.5}),
    axY([0,0.25,0.5,0.75,1], {ts:2.5, tp:1.2, fs:14, fmt: f2, color:"#5e5e5e", stroke:"#111"}),
    axX([1,0.75,0.5,0.25,0], {ts:2.5, tp:3, fs:14, fmt: f2, color:"#5e5e5e", stroke:"#111"})
  ]
});

// ================= PANEL e =================
const FE = {L:99.1, R:518.3, T:768.3, B:1134.3};
const eRows = eTechOnly.map((t, i) => ({i, tech: t, full: eWithCellType[i]}));
panel(FE, {l:45, r:6, t:6, b:20}, {
  x: {domain: [-0.23, 162], axis: null}, y: {domain: [1.6, 104.4], axis: null},
  marks: [
    Plot.ruleX(eRows, {x: "i", y1: "tech", y2: "full", stroke: "#adadad", strokeWidth: 1.9}),
    Plot.dot(eRows, {x: "i", y: "full", r: 3.2, fill: "#e8262b"}),
    Plot.dot(eRows, {x: "i", y: "tech", r: 3.1, fill: "#3c62b4"}),
    axY([25,50,75,100], {ts:4, tp:3.8, fs:15}),
    Plot.ruleX([-0.23], {stroke: "#222", strokeWidth: 1.3}),
    Plot.ruleY([1.6], {stroke: "#222", strokeWidth: 1.3})
  ]
});

// ================= PANEL f =================
const fMajor = [-5,-2.5,0,2.5,5], fMinor = [-3.75,-1.25,1.25,3.75];
function fPanel(fr, xdom, pts) {
  return panel(fr, {l:40, r:6, t:6, b:24}, {
    x: {domain: xdom, axis: null}, y: {domain: [-5.48, 5.44], axis: null},
    marks: [
      Plot.gridX({ticks: fMinor, stroke: "#f0f0f0", strokeOpacity: 1, strokeWidth: 0.7}),
      Plot.gridY({ticks: fMinor, stroke: "#f0f0f0", strokeOpacity: 1, strokeWidth: 0.7}),
      Plot.gridX({ticks: fMajor, stroke: "#e4e4e4", strokeOpacity: 1, strokeWidth: 1.1}),
      Plot.gridY({ticks: fMajor, stroke: "#e4e4e4", strokeOpacity: 1, strokeWidth: 1.1}),
      Plot.line(fIdentity, {x: d => d, y: d => d, stroke: "#111", strokeWidth: 1.1, clip: true}),
      Plot.dot(pts, {x: d => d[0], y: d => d[1], r: 1.9, fill: "#000"}),
      Plot.frame({stroke: "#8c8c8c", strokeWidth: 1.1}),
      axX(fMajor, {ts:3, tp:0, fs:11.5, fmt: f1, stroke:"#888"}),
      axY(fMajor, {ts:3, tp:1.5, fs:12, fmt: f1, stroke:"#888"})
    ]
  });
}
fPanel({L:581.8, R:814.7, T:732.7, B:929.3}, [-5.58, 5.50], fPrePoints);
fPanel({L:887.6, R:1118.5, T:732.7, B:929.3}, [-5.56, 5.49], fPostPoints);

// ================= PANEL g =================
const FG = {L:596.8, R:808.7, T:978.3, B:1163.3};
const gBoxes = gCats.map((cat, i) => ({pos: i + 1, q1: gQ1[i], med: gMedian[i], q3: gQ3[i], lo: gWhiskerLo[i], hi: gWhiskerHi[i]}));
const gPoints = [...gPreSlopes.map((v, i) => ({x: gPreJitter[i], v})), ...gPostSlopes.map((v, i) => ({x: gPostJitter[i], v}))];
panel(FG, {l:40, r:6, t:6, b:20}, {
  x: {domain: [0.4, 2.6], axis: null}, y: {domain: [0.205, 1.306], axis: null},
  marks: [
    Plot.gridY({ticks: [0.375,0.625,0.875,1.125], stroke: "#f0f0f0", strokeOpacity: 1, strokeWidth: 0.7}),
    Plot.gridY({ticks: [0.25,0.5,0.75,1,1.25], stroke: "#e4e4e4", strokeOpacity: 1, strokeWidth: 1.1}),
    Plot.gridX({ticks: [1,2], stroke: "#e4e4e4", strokeOpacity: 1, strokeWidth: 1.1}),
    Plot.ruleX(gBoxes, {x: "pos", y1: "lo", y2: "hi", stroke: "#444", strokeWidth: 1.1}),
    Plot.rect(gBoxes, {x1: d => d.pos - 0.375, x2: d => d.pos + 0.375, y1: "q1", y2: "q3", fill: "#fff", stroke: "#444", strokeWidth: 1.2}),
    Plot.ruleY(gBoxes, {y: "med", x1: d => d.pos - 0.375, x2: d => d.pos + 0.375, stroke: "#333", strokeWidth: 2.3}),
    Plot.dot(gPoints, {x: "x", y: "v", r: 1.9, fill: "#000"}),
    Plot.frame({stroke: "#8c8c8c", strokeWidth: 1.1}),
    axY([0.25,0.5,0.75,1,1.25], {ts:2.5, tp:1.5, fs:12, fmt: f2, stroke:"#888"}),
    axX([1,2], {ts:2.5, tp:0.5, fs:12.3, fmt: d => gCats[d - 1], stroke:"#888"})
  ]
});

// ================= PANEL h =================
const FH = {L:910.7, R:1107.1, T:977.7, B:1150};
const hPre = hPreSlope.map((s, i) => ({s, d: hPreDensity[i]}));
const hPost = hPostSlope.map((s, i) => ({s, d: hPostDensity[i]}));
panel(FH, {l:30, r:6, t:6, b:20}, {
  x: {type: "log", domain: [0.0858, 3.49], axis: null}, y: {domain: [-0.064, 1.586], axis: null},
  marks: [
    Plot.gridX({ticks: [0.173,0.548,1.732], stroke: "#f0f0f0", strokeOpacity: 1, strokeWidth: 0.7}),
    Plot.gridY({ticks: [0.25,0.75,1.25], stroke: "#f0f0f0", strokeOpacity: 1, strokeWidth: 0.7}),
    Plot.gridX({ticks: [0.1,0.3,1,3], stroke: "#e4e4e4", strokeOpacity: 1, strokeWidth: 1.1}),
    Plot.gridY({ticks: [0,0.5,1,1.5], stroke: "#e4e4e4", strokeOpacity: 1, strokeWidth: 1.1}),
    Plot.areaY(hPre, {x: "s", y: "d", fill: "#f9d6cd", curve: "monotone-x"}),
    Plot.areaY(hPost, {x: "s", y: "d", fill: "#92cfd6", fillOpacity: 0.46, curve: "monotone-x"}),
    Plot.line(hPre, {x: "s", y: "d", stroke: "#222", strokeWidth: 1.1, curve: "monotone-x"}),
    Plot.line(hPost, {x: "s", y: "d", stroke: "#222", strokeWidth: 1.1, curve: "monotone-x"}),
    Plot.frame({stroke: "#8c8c8c", strokeWidth: 1.1}),
    axY([0,0.5,1,1.5], {ts:3, tp:3, fs:12, fmt: f1, stroke:"#888"}),
    axX([0.1,0.3,1,3], {ts:3, tp:1.8, fs:12, fmt: f1, stroke:"#888"})
  ]
});

// ================= TEXT & LEGENDS OVERLAY =================
const ov = d3.select(root).append("svg").attr("width", 1165).attr("height", 1200)
  .style("left", "0px").style("top", "0px").style("pointer-events", "none");
function txt(s, x, y, o = {}) {
  const size = o.size || 14;
  const t = ov.append("text").attr("x", x).attr("y", y)
    .attr("font-family", o.family || FONT).attr("font-size", size)
    .attr("font-weight", o.weight || "normal").attr("fill", o.fill || "#000")
    .attr("text-anchor", o.anchor || "start");
  if (o.rotate) t.attr("transform", `rotate(${o.rotate} ${x} ${y})`);
  if (o.len) t.attr("textLength", o.len).attr("lengthAdjust", "spacingAndGlyphs");
  if (o.sub) {
    t.append("tspan").text(s);
    t.append("tspan").attr("font-size", size * 0.68).attr("dy", size * 0.32).text(o.sub);
  } else if (o.lines) {
    o.lines.forEach((ln, k) => t.append("tspan").attr("x", x).attr("dy", k === 0 ? 0 : o.lh).text(ln));
  } else t.text(s);
  return t;
}
const B = {weight: "bold", size: 34};
// panel letters
txt("a", 17, 35, B); txt("b", 17, 393, B); txt("c", 587.5, 373, B); txt("d", 859, 376, {weight: "bold", size: 33});
txt("e", 40.6, 753, B); txt("f", 538, 743, B); txt("g", 548.2, 989, B); txt("h", 852, 990, B);

// a
txt("VISLSGEHSIIGR2", 52, 55, {size: 16.5});
txt("R\u00b2 = 0.54", 305, 93, {size: 16});
txt("Intensity", 28, 171, {size: 16, rotate: -90, anchor: "middle"});
txt("Run order", 234, 322, {size: 17, anchor: "middle"});
txt("LC batch 1 deviations", 458, 57, {size: 16.5});
txt("# Peptides", 421.5, 174, {size: 16, rotate: -90, anchor: "middle"});
txt("R\u00b2 of spline fit", 598, 323, {size: 17, anchor: "middle"});
txt("Correct all peptides R\u00b2 above 0.1", 538, 135, {size: 12.6, fill: "#111"});
txt("VISLSGEHSIIGR2", 646, 247, {size: 11.7, fill: "#111"});
txt("VISLSGEHSIIGR2", 803, 58, {size: 16.5});
txt("Corrected intensity", 760, 180, {size: 13, rotate: -90, anchor: "middle"});
txt("Order", 956.7, 321.5, {size: 14, anchor: "middle"});

// b
txt("% missingness per cell", 43.8, 523, {size: 17.4, rotate: -90, anchor: "middle"});
txt("Total cell MS intensity, log", 203, 672.7, {size: 17.5, anchor: "middle", sub: "2"});
txt("Diameter", 479, 672.7, {size: 18, anchor: "middle"});
txt("R\u00b2 = 0.70", 99.6, 595, {size: 23, len: 83});
txt("R\u00b2 = 0.45", 342, 595, {size: 23, len: 83});

// c
txt("Predicted intensity (RT, Label)", 615, 511, {size: 16, rotate: -90, anchor: "middle"});
txt("Missing values", 706, 655, {size: 15.5, anchor: "end", rotate: -18, fill: GRAY});
txt("Observed values", 797, 655, {size: 15.5, anchor: "end", rotate: -18, fill: GRAY});

// d
txt("ROC curve missing data", 1032.6, 357.5, {size: 11, anchor: "middle"});
txt("all peptides all cells", 1032.6, 370.2, {size: 11, anchor: "middle"});
txt("Sensitivity", 873, 497.5, {size: 17.5, rotate: -90, anchor: "middle"});
txt("Specificity", 1040, 661, {size: 18.5, anchor: "middle"});
ov.append("line").attr("x1", 1039).attr("x2", 1052).attr("y1", 549).attr("y2", 549).attr("stroke", "#0d0d0d").attr("stroke-width", 3);
ov.append("line").attr("x1", 1039).attr("x2", 1052).attr("y1", 562.7).attr("y2", 562.7).attr("stroke", "#8a8a8a").attr("stroke-width", 3);
txt("", 1059.5, 552.5, {size: 11.3, lines: ["Cell type", "Technical only"], lh: 14});

// e
txt("Chondrocyte lowly abundant proteins", 311, 761, {size: 21.5, anchor: "middle"});
txt("% of missing values predicted", 54.7, 941, {size: 19, rotate: -90, anchor: "middle"});
txt("Proteins", 311.9, 1158, {size: 19, anchor: "middle"});
ov.append("circle").attr("cx", 216.4).attr("cy", 1008.3).attr("r", 7.5).attr("fill", "#e8262b");
ov.append("circle").attr("cx", 216.4).attr("cy", 1039.3).attr("r", 7.5).attr("fill", "#3c62b4");
ov.append("line").attr("x1", 192).attr("x2", 237.7).attr("y1", 1076.7).attr("y2", 1076.7).attr("stroke", "#b0b0b0").attr("stroke-width", 3.5);
txt("Technical effect + cell type model", 239.4, 1013, {size: 14, fill: "#222"});
txt("Technical effect only model", 239.4, 1044, {size: 14, fill: "#222"});
txt("% biological missingness", 245.1, 1081.7, {size: 14, fill: "#222"});

// f
txt("Chondrocyte", 840.8, 710, {size: 24, anchor: "middle"});
txt("Pre-correction", 698.1, 726.7, {size: 15.5, anchor: "middle"});
txt("Post-correction", 1015.6, 726.7, {size: 15.5, anchor: "middle"});
txt("Slope = 0.63", 604.1, 782.7, {size: 14.5});
txt("Slope = 1.01", 902.6, 782.7, {size: 14.5});
txt("Protein", 552.5, 828.5, {size: 15, rotate: -90, anchor: "middle"});
txt("Protein", 855, 828.5, {size: 15, rotate: -90, anchor: "middle"});
txt("mRNA", 699, 955.5, {size: 14, anchor: "middle"});
txt("mRNA", 1005.9, 955.5, {size: 14, anchor: "middle"});

// g
txt("All cell types, across genes", 710.2, 975, {size: 13.4, anchor: "middle"});
txt("Slopes", 560.1, 1079.5, {size: 14.7, rotate: -90, anchor: "middle"});

// h
txt("Across cell types", 1014, 975.5, {size: 17, anchor: "middle"});
txt("Genes", 883, 1064, {size: 13.5, rotate: -90, anchor: "middle"});
txt("Slopes", 1012, 1176, {size: 15.9, anchor: "middle"});
ov.append("rect").attr("x", 912).attr("y", 985).attr("width", 104).attr("height", 28).attr("fill", "#fff");
ov.append("rect").attr("x", 915).attr("y", 986.7).attr("width", 12.7).attr("height", 12.3).attr("fill", "#f9d6cd").attr("stroke", "#111").attr("stroke-width", 1.1);
ov.append("rect").attr("x", 915).attr("y", 999).attr("width", 12.7).attr("height", 12.3).attr("fill", "#cde9ec").attr("stroke", "#111").attr("stroke-width", 1.1);
txt("", 930.7, 996.5, {size: 12.2, lines: ["Pre correction", "Post correction"], lh: 12.5});
</script></body></html>
